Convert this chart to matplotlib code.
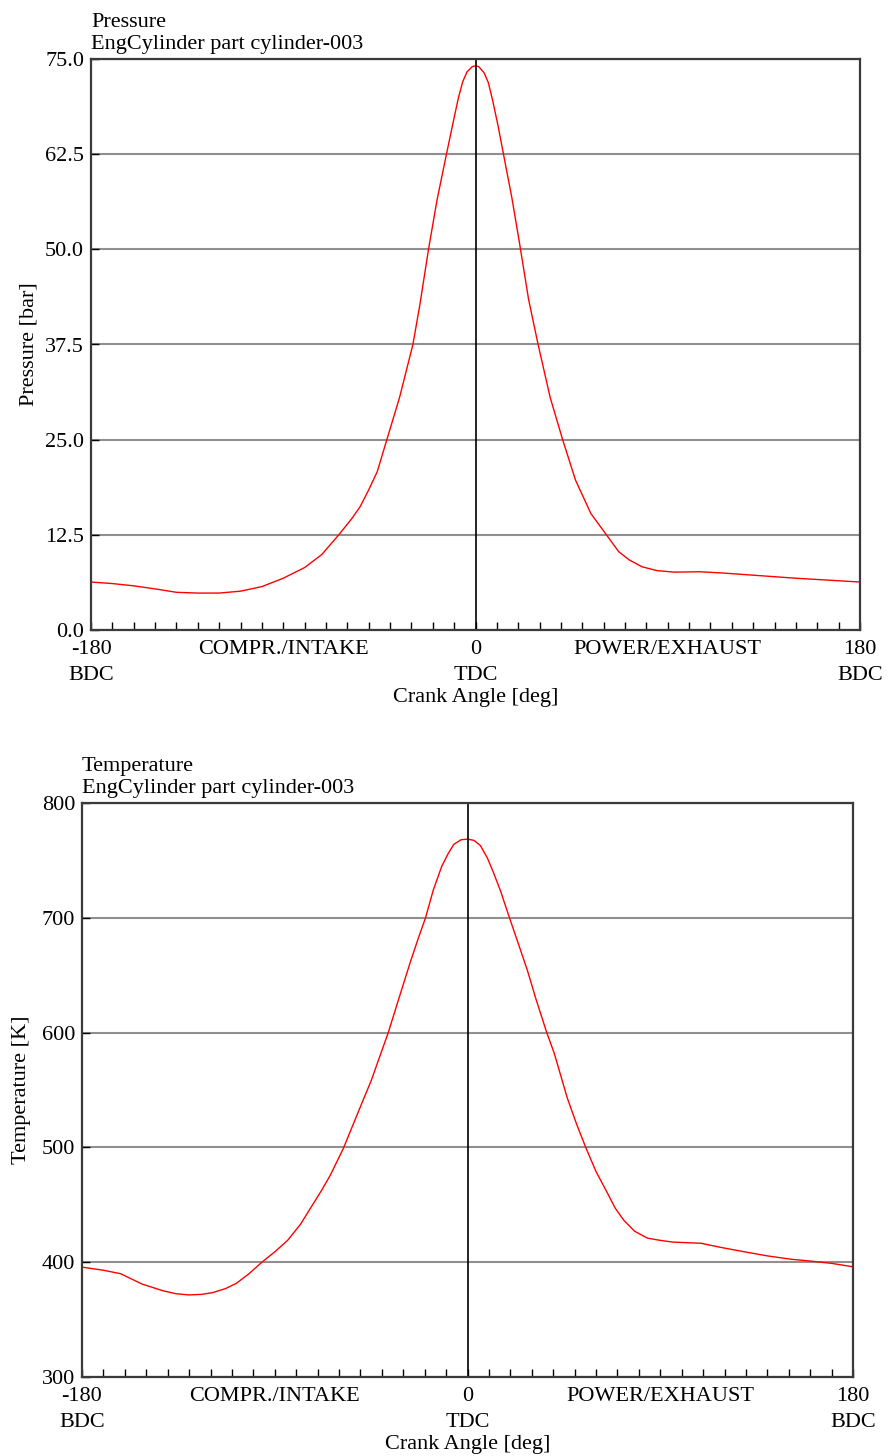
import numpy as np
import matplotlib
matplotlib.use("Agg")
import matplotlib.pyplot as plt

plt.rcParams['font.family'] = ['Liberation Serif', 'DejaVu Serif']

# crank angle tick labels
tick_pos = [-180, -90, 0, 90, 180]
tick_labels = ["-180\nBDC", "COMPR./INTAKE", "0\nTDC", "POWER/EXHAUST", "180\nBDC"]

# pressure trace [bar]
p_angle = [-180, -170, -160, -150, -140, -130, -120, -110, -100, -90, -80, -72,
           -64, -58, -54, -50, -46, -41.5, -35.5, -29.3, -26, -22, -18,
           -13.6, -10, -8, -6, -4, -1.5, 0, 1.5, 4, 6, 8, 10.5, 13.1, 17, 20.5, 24.8,
           29.3, 35, 40.8, 46.8, 54, 61.3, 67, 72, 78, 85, 93, 105, 115, 125, 135,
           150, 165, 180]
p_val = [6.3, 6.1, 5.8, 5.4, 4.95, 4.85, 4.85, 5.1, 5.7, 6.8, 8.2, 9.9,
         12.5, 14.6, 16.2, 18.4, 20.8, 25.0, 30.6, 37.5, 42.8, 50.0, 56.5,
         62.5, 67.3, 69.9, 72.0, 73.3, 74.0, 74.1, 74.0, 73.2, 71.9, 69.6, 66.3, 62.5, 56.8, 51.0, 43.5,
         37.5, 30.5, 25.0, 19.7, 15.3, 12.5, 10.3, 9.2, 8.3, 7.8, 7.6, 7.65, 7.5, 7.3, 7.1,
         6.8, 6.55, 6.3]

# temperature trace [K]
t_angle = [-180, -170, -162, -152, -142, -136, -130, -124, -119, -113, -108, -102,
           -96, -90, -84, -78, -72, -68, -64, -58, -49, -45, -37, -32, -26.6, -23,
           -19.6, -16, -12, -9, -6.4, -3, 0, 3, 6, 9.3, 12, 15.4, 19.6, 24, 28, 32,
           37, 40.5, 46.6, 51, 55.2, 60, 65.4, 69, 73, 78, 84, 90, 96, 109, 118, 128,
           140, 151, 160, 170, 180]
t_val = [395.7, 393, 390, 381, 375, 372.5, 371.5, 372, 373.5, 377, 381.5, 390,
         400, 409, 419, 433, 451, 463, 476, 499, 540, 558, 600, 630, 662, 682,
         700, 724, 745, 756, 764, 768, 768.5, 767.5, 763, 752, 740, 723.5, 700, 676, 654, 629,
         600, 582, 543, 520, 500, 479, 460, 447, 436.5, 427, 421, 419, 417.5, 416.5, 413, 409.5,
         405.5, 402.6, 401, 399, 396]

fs = 16
fig = plt.figure(figsize=(8.92, 14.56), dpi=100)
ax1 = fig.add_axes([91/892, 1-630/1456, 769/892, 571/1456])
ax2 = fig.add_axes([82/892, 1-1377/1456, 771/892, 574/1456])


def style(ax, title, ylabel, ylim, yticks, yfmt, ylpad):
    ax.set_xlim(-180, 180)
    ax.set_ylim(*ylim)
    ax.set_yticks(yticks)
    ax.set_yticklabels([yfmt.format(v) for v in yticks], fontsize=fs)
    ax.set_xticks(tick_pos)
    ax.set_xticklabels(tick_labels, fontsize=fs, linespacing=1.55, va='top')
    ax.set_xticks(np.arange(-180, 181, 10), minor=True)
    ax.tick_params(axis='x', which='both', direction='in', length=6, width=1, color='black', pad=7)
    ax.tick_params(axis='y', direction='in', length=6, width=1, pad=5)
    ax.yaxis.grid(True, color='#8f8f8f', lw=1.5)
    ax.axvline(0, color='black', lw=1.2)
    for s in ax.spines.values():
        s.set_color('#3a3a3a')
        s.set_linewidth(1.6)
    ax.set_ylabel(ylabel, fontsize=fs, labelpad=ylpad)
    ax.set_xlabel("Crank Angle [deg]", fontsize=fs, labelpad=2)
    ax.text(0, 1.009, title, transform=ax.transAxes, ha='left', va='bottom',
            fontsize=fs, linespacing=1.2)


ax1.plot(p_angle, p_val, color='red', lw=1.0)
style(ax1, "Pressure\nEngCylinder part cylinder-003", "Pressure [bar]",
      (0, 75), [0, 12.5, 25, 37.5, 50, 62.5, 75], "{:.1f}", 5)

ax2.plot(t_angle, t_val, color='red', lw=1.0)
style(ax2, "Temperature\nEngCylinder part cylinder-003", "Temperature [K]",
      (300, 800), [300, 400, 500, 600, 700, 800], "{:.0f}", 8)

fig.savefig("out.png", dpi=100)
